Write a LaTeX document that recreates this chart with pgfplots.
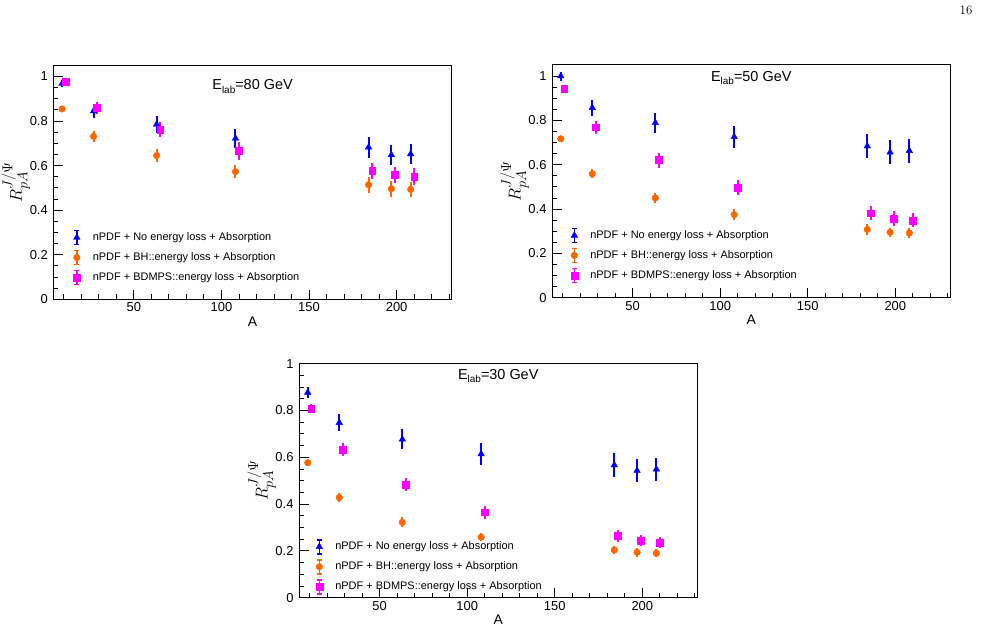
\documentclass[border=0pt]{standalone}
\usepackage{fontspec}
\usepackage{pgfplots}
\usepackage{pgfplotstable}
\pgfplotsset{compat=1.18}
\newfontfamily\helv{Liberation Sans}

\definecolor{rblue}{RGB}{0,0,255}
\definecolor{rorange}{RGB}{255,102,0}
\definecolor{rmagenta}{RGB}{255,0,255}

% columns: A, shifted A for the BDMPS points, then value/error for
% no energy loss (tri), BH energy loss (bh), BDMPS energy loss (bd)
\pgfplotstableread{
A   As   tri    etri   bh     ebh    bd     ebd
9   11   0.968  0.015  0.854  0.012  0.975  0.013
27  29   0.845  0.031  0.731  0.025  0.859  0.026
63  65   0.785  0.037  0.645  0.028  0.761  0.034
108 110  0.722  0.043  0.573  0.028  0.667  0.040
184 186  0.682  0.048  0.514  0.036  0.577  0.036
197 199  0.648  0.046  0.496  0.036  0.559  0.035
208 210  0.652  0.047  0.493  0.034  0.550  0.037
}\tabEighty

\pgfplotstableread{
A   As   tri    etri   bh     ebh    bd     ebd
9   11   1.000  0.020  0.717  0.010  0.944  0.012
27  29   0.857  0.036  0.559  0.021  0.769  0.030
63  65   0.789  0.044  0.450  0.023  0.621  0.034
108 110  0.726  0.049  0.375  0.024  0.498  0.033
184 186  0.684  0.053  0.308  0.024  0.381  0.032
197 199  0.656  0.054  0.295  0.021  0.358  0.034
208 210  0.663  0.055  0.292  0.022  0.349  0.032
}\tabFifty

\pgfplotstableread{
A   As   tri    etri   bh     ebh    bd     ebd
9   11   0.877  0.023  0.577  0.010  0.809  0.018
27  29   0.748  0.037  0.428  0.019  0.634  0.028
63  65   0.677  0.043  0.322  0.021  0.482  0.028
108 110  0.614  0.047  0.259  0.018  0.365  0.029
184 186  0.567  0.050  0.204  0.018  0.264  0.025
197 199  0.543  0.050  0.194  0.018  0.244  0.025
208 210  0.549  0.050  0.190  0.018  0.235  0.023
}\tabThirty

\pgfplotsset{
  rootpanel/.style={
    scale only axis, width=398.5bp, height=234bp,
    xmin=4, xmax=231.5, ymin=0,
    xtick={50,100,150,200},
    minor xtick={10,20,30,40,60,70,80,90,110,120,130,140,160,170,180,190,210,220,230},
    ytick={0,0.2,0.4,0.6,0.8,1},
    minor ytick={0.05,0.1,0.15,0.25,0.3,0.35,0.45,0.5,0.55,0.65,0.7,0.75,0.85,0.9,0.95},
    xtick pos=bottom, ytick pos=left, tick align=inside,
    major tick length=9.5bp, minor tick length=5bp,
    axis line style={line width=1bp},
    every tick/.style={black, line width=0.9bp},
    ticklabel style={font=\helv\fontsize{13}{13}\selectfont},
    yticklabel style={xshift=-2bp},
    /pgf/number format/assume math mode=true,
    clip=false,
    xlabel={A},
    xlabel style={font=\helv\fontsize{14}{14}\selectfont, at={(axis description cs:0.5,-0.094)}, anchor=center},
    ylabel={$R_{pA}^{J/\Psi}$},
    ylabel style={font=\fontsize{19}{19}\selectfont, at={(axis description cs:-0.094,0.5)}, anchor=center},
    legend cell align=left,
    legend style={draw=none, fill=none, inner sep=0pt, row sep=4.4bp,
      font=\helv\fontsize{11}{11}\selectfont, nodes={inner sep=1bp}},
  },
  ebar/.style={error bars/.cd, y dir=both, y explicit, error mark=none,
    error bar style={line width=2bp, draw=#1}},
  noloss/.style={only marks, mark=triangle*, mark size=3.8bp, color=rblue,
    legend image code/.code={
      \draw[draw=rblue, line width=1.6bp] (0bp,-7bp) -- (0bp,7bp) (-2.5bp,-7bp) -- (2.5bp,-7bp) (-2.5bp,7bp) -- (2.5bp,7bp);
      \draw[rblue, mark=triangle*, mark size=3.8bp] plot coordinates {(0bp,0bp)};
      \path[draw=none, fill=none] (-5bp,0bp) rectangle (15bp,0.1bp);},
    ebar=rblue},
  bhloss/.style={only marks, mark=*, mark size=3.3bp, color=rorange,
    legend image code/.code={
      \draw[draw=rorange, line width=1.6bp] (0bp,-7bp) -- (0bp,7bp) (-2.5bp,-7bp) -- (2.5bp,-7bp) (-2.5bp,7bp) -- (2.5bp,7bp);
      \draw[rorange, mark=*, mark size=3.3bp] plot coordinates {(0bp,0bp)};
      \path[draw=none, fill=none] (-5bp,0bp) rectangle (15bp,0.1bp);},
    ebar=rorange},
  bdloss/.style={only marks, mark=square*, mark size=3.4bp, color=rmagenta,
    legend image code/.code={
      \draw[draw=rmagenta, line width=1.6bp] (0bp,-7bp) -- (0bp,7bp) (-2.5bp,-7bp) -- (2.5bp,-7bp) (-2.5bp,7bp) -- (2.5bp,7bp);
      \draw[rmagenta, mark=square*, mark size=3.4bp] plot coordinates {(0bp,0bp)};
      \path[draw=none, fill=none] (-5bp,0bp) rectangle (15bp,0.1bp);},
    ebar=rmagenta},
}

\newcommand{\elab}[1]{E\raisebox{-0.45ex}{\fontsize{10}{10}\selectfont lab}=#1 GeV}

\begin{document}
\begin{tikzpicture}
\useasboundingbox (0,0) rectangle (996bp,630bp);
\node[font=\fontsize{13}{13}\selectfont] at (966bp,620bp) {16};

% E_lab = 80 GeV
\begin{axis}[rootpanel, at={(53.3bp,330.7bp)}, anchor=south west, ymax=1.05,
  legend style={at={(axis description cs:0.046,0.298)}, anchor=north west}]
  \addplot[noloss] table[x=A, y=tri, y error=etri] {\tabEighty};
  \addplot[bhloss] table[x=A, y=bh, y error=ebh] {\tabEighty};
  \addplot[bdloss] table[x=As, y=bd, y error=ebd] {\tabEighty};
  \legend{nPDF + No energy loss + Absorption, nPDF + BH::energy loss + Absorption, nPDF + BDMPS::energy loss + Absorption}
  \node[font=\helv\fontsize{14.5}{14.5}\selectfont] at (axis description cs:0.5,0.91) {\elab{80}};
\end{axis}

% E_lab = 50 GeV
\begin{axis}[rootpanel, at={(552bp,332.3bp)}, anchor=south west, height=232.7bp, ymax=1.05,
  legend style={at={(axis description cs:0.043,0.302)}, anchor=north west}]
  \addplot[noloss] table[x=A, y=tri, y error=etri] {\tabFifty};
  \addplot[bhloss] table[x=A, y=bh, y error=ebh] {\tabFifty};
  \addplot[bdloss] table[x=As, y=bd, y error=ebd] {\tabFifty};
  \legend{nPDF + No energy loss + Absorption, nPDF + BH::energy loss + Absorption, nPDF + BDMPS::energy loss + Absorption}
  \node[font=\helv\fontsize{14.5}{14.5}\selectfont] at (axis description cs:0.5,0.943) {\elab{50}};
\end{axis}

% E_lab = 30 GeV
\begin{axis}[rootpanel, at={(299bp,32.3bp)}, anchor=south west, ymax=1,
  legend style={at={(axis description cs:0.038,0.252)}, anchor=north west}]
  \addplot[noloss] table[x=A, y=tri, y error=etri] {\tabThirty};
  \addplot[bhloss] table[x=A, y=bh, y error=ebh] {\tabThirty};
  \addplot[bdloss] table[x=As, y=bd, y error=ebd] {\tabThirty};
  \legend{nPDF + No energy loss + Absorption, nPDF + BH::energy loss + Absorption, nPDF + BDMPS::energy loss + Absorption}
  \node[font=\helv\fontsize{14.5}{14.5}\selectfont] at (axis description cs:0.5,0.948) {\elab{30}};
\end{axis}
\end{tikzpicture}
\end{document}
